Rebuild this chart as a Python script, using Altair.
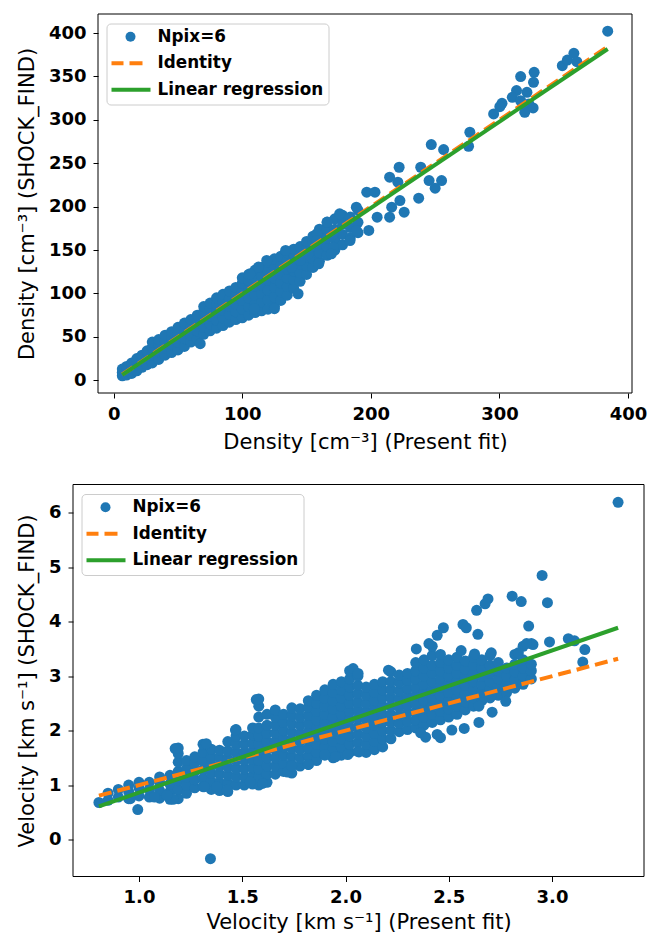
import altair as alt
import pandas as pd

BLUE, ORANGE, GREEN = "#1f77b4", "#ff7f0e", "#2ca02c"
SERIES = ["Npix=6", "Identity", "Linear regression"]
FONT = "DejaVu Sans"

# ---------------- Density panel ----------------
# dense band: present-fit density -> SHOCK_FIND densities in that column
density_columns = {
    6.7: [5.2, 9, 13], 10: [6, 11, 16], 14: [8, 14, 20], 18: [11, 18, 25],
    22: [15, 22, 29], 26: [18, 26, 34], 30: [20, 29, 38, 44], 35: [24, 33, 41, 47],
    40: [29, 37, 45, 52], 45: [32, 41, 49, 56], 50: [35, 44, 53, 61],
    55: [39, 48, 57, 66], 60: [44, 52, 61, 70], 65: [48, 57, 66, 75],
    70: [53, 61, 70, 79, 85], 75: [57, 65, 74, 83, 89], 80: [60, 69, 78, 87, 95],
    85: [63, 72, 81, 90, 99], 90: [67, 76, 85, 94, 103], 95: [70, 79, 88, 97, 107],
    100: [72, 82, 92, 102, 112, 118], 105: [75, 85, 95, 105, 115, 122],
    110: [78, 88, 98, 108, 118, 127], 115: [80, 90, 100, 110, 120, 130],
    120: [82, 93, 104, 115, 126, 136], 125: [85, 96, 107, 118, 129, 140],
    130: [92, 102, 112, 122, 132, 143], 135: [98, 108, 118, 128, 138, 147],
    140: [106, 116, 126, 136, 146, 151], 145: [114, 124, 134, 144, 154],
    150: [122, 132, 142, 152, 160], 155: [130, 140, 150, 160, 166],
    160: [137, 147, 157, 167, 174], 166: [144, 154, 164, 174, 182],
    172: [150, 162, 174, 186], 178: [156, 168, 180, 190],
    184: [164, 176, 188], 190: [170, 182, 196],
}
# scattered points away from the band
density_fit = [384.2, 348.9, 352.8, 357.9, 360.2, 316.5, 327, 326.5, 313.3, 321.4,
               310, 316.5, 322.9, 326.2, 302, 300.3, 295.5, 319.7, 277, 276,
               247, 256.6, 245.3, 255, 250, 238.8, 237.2, 222, 221, 214.6,
               222.6, 216.2, 214.6, 225.9, 204.9, 198.4, 196.8, 203.2, 188.7, 188.7,
               175.7, 166, 170.9, 183.8, 170.9, 157.9, 158, 169.3, 159.5, 151.5,
               143.4, 125, 109.4, 67.3, 138.5, 133.7, 145, 119, 106, 112.6]
density_shock = [402.1, 362.4, 368.9, 376.6, 367, 349.8, 354.7, 343.2, 333.7, 331.7,
                 326, 322, 318.3, 313.7, 319, 315.2, 306.8, 308.7, 285.7, 269.6,
                 271.5, 265.8, 230, 230, 221.3, 245.4, 209.8, 245.4, 228.2, 234,
                 207, 199.4, 187.9, 193.7, 187.9, 172.6, 216.7, 216.7, 199.4, 172.6,
                 191.8, 182.2, 168.7, 161, 153.4, 168.7, 161, 145.7, 134.2, 145.7,
                 99.7, 82.5, 82.5, 42.2, 130.4, 149.6, 138, 138, 122.7, 130.4]
density_line_x = [6.7, 384.2]
density_identity = [6.7, 384.2]
density_regression = [6.3, 381.6]
density_xlim = [-12.2, 403.1]
density_ylim = [-14.6, 421.9]

# ---------------- Velocity panel ----------------
velocity_columns = {
    0.85: [0.72, 0.85], 0.90: [0.78, 0.92], 0.95: [0.75, 0.88, 1.00],
    1.00: [0.80, 0.95, 1.05], 1.05: [0.78, 0.92, 1.05], 1.10: [0.76, 0.90, 1.05, 1.15],
    1.15: [0.74, 0.88, 1.02, 1.18], 1.19: [0.75, 0.92, 1.08, 1.25, 1.42, 1.58, 1.68],
    1.23: [0.85, 1.00, 1.15, 1.30, 1.45], 1.27: [0.95, 1.10, 1.25, 1.40, 1.52],
    1.31: [0.97, 1.12, 1.28, 1.44, 1.60, 1.75], 1.35: [0.92, 1.07, 1.22, 1.38, 1.52, 1.66],
    1.39: [0.90, 1.05, 1.20, 1.35, 1.50, 1.64], 1.43: [0.88, 1.03, 1.18, 1.33, 1.48, 1.63, 1.80],
    1.47: [1.00, 1.15, 1.30, 1.45, 1.60, 1.75, 1.90, 2.02],
    1.51: [1.00, 1.15, 1.30, 1.45, 1.60, 1.75, 1.90],
    1.55: [1.02, 1.17, 1.32, 1.47, 1.62, 1.77, 1.92, 2.05],
    1.58: [1.00, 1.15, 1.30, 1.45, 1.60, 1.75, 1.90, 2.05, 2.25, 2.45, 2.58],
    1.62: [1.05, 1.20, 1.35, 1.50, 1.65, 1.80, 1.95, 2.10, 2.30],
    1.66: [1.20, 1.35, 1.50, 1.65, 1.80, 1.95, 2.10, 2.25, 2.38],
    1.70: [1.25, 1.40, 1.55, 1.70, 1.85, 2.00, 2.15, 2.30],
    1.74: [1.22, 1.37, 1.52, 1.67, 1.82, 1.97, 2.12, 2.27, 2.42],
    1.78: [1.35, 1.50, 1.65, 1.80, 1.95, 2.10, 2.25, 2.40],
    1.82: [1.38, 1.53, 1.68, 1.83, 1.98, 2.13, 2.28, 2.43, 2.55],
    1.86: [1.45, 1.60, 1.75, 1.90, 2.05, 2.20, 2.35, 2.50, 2.65],
    1.90: [1.55, 1.70, 1.85, 2.00, 2.15, 2.30, 2.45, 2.60, 2.75],
    1.94: [1.50, 1.65, 1.80, 1.95, 2.10, 2.25, 2.40, 2.55, 2.70, 2.85],
    1.98: [1.55, 1.70, 1.85, 2.00, 2.15, 2.30, 2.45, 2.60, 2.75, 2.90],
    2.02: [1.60, 1.75, 1.90, 2.05, 2.20, 2.35, 2.50, 2.65, 2.80, 2.95, 3.10],
    2.06: [1.62, 1.78, 1.93, 2.08, 2.23, 2.38, 2.53, 2.68, 2.83, 3.00],
    2.10: [1.60, 1.75, 1.90, 2.05, 2.20, 2.35, 2.50, 2.65, 2.80],
    2.14: [1.65, 1.80, 1.95, 2.10, 2.25, 2.40, 2.55, 2.70, 2.85],
    2.18: [1.70, 1.85, 2.00, 2.15, 2.30, 2.45, 2.60, 2.75, 2.90],
    2.22: [1.85, 2.00, 2.15, 2.30, 2.45, 2.60, 2.75, 2.90, 3.08],
    2.26: [1.98, 2.13, 2.28, 2.43, 2.58, 2.73, 2.88, 3.02],
    2.30: [2.02, 2.17, 2.32, 2.47, 2.62, 2.77, 2.92, 3.05],
    2.34: [2.05, 2.20, 2.35, 2.50, 2.65, 2.80, 2.95, 3.10, 3.25],
    2.38: [2.10, 2.25, 2.40, 2.55, 2.70, 2.85, 3.00, 3.15, 3.30],
    2.42: [2.15, 2.30, 2.45, 2.60, 2.75, 2.90, 3.05, 3.20, 3.38, 3.55],
    2.46: [2.20, 2.35, 2.50, 2.65, 2.80, 2.95, 3.10, 3.25, 3.40],
    2.50: [2.25, 2.40, 2.55, 2.70, 2.85, 3.00, 3.15, 3.30],
    2.54: [2.30, 2.45, 2.60, 2.75, 2.90, 3.05, 3.20, 3.35],
    2.58: [2.38, 2.53, 2.68, 2.83, 2.98, 3.13, 3.28],
    2.62: [2.45, 2.60, 2.75, 2.90, 3.05, 3.20, 3.35],
    2.66: [2.55, 2.70, 2.85, 3.00, 3.15, 3.30],
    2.70: [2.60, 2.75, 2.90, 3.05, 3.20, 3.38],
    2.74: [2.65, 2.80, 2.95, 3.10, 3.25],
    2.78: [2.70, 2.85, 3.00, 3.15],
    2.82: [2.78, 2.93, 3.08, 3.22, 3.40],
    2.86: [2.85, 3.00, 3.15, 3.30, 3.55],
    2.90: [2.95, 3.10, 3.22, 3.60],
}
velocity_fit = [3.32, 2.952, 2.978, 2.807, 2.851, 2.690, 2.676, 2.635, 2.887, 2.641,
                2.569, 2.585, 2.474, 2.444, 3.079, 3.109, 2.988, 3.159, 3.149, 2.56,
                2.706, 2.837, 2.908, 2.776, 2.710, 2.646, 2.646, 2.575, 2.515, 2.460,
                2.444, 2.364, 2.388, 2.208, 2.037, 2.061, 1.568, 1.326, 1.175, 1.467,
                1.346, 0.994, 0.958, 0.806, 1.951, 2.011, 2.065, 1.900, 1.820, 1.719,
                1.739, 1.598, 1.538, 1.427, 1.377, 1.316, 1.165, 1.135, 1.075,
                2.343, 2.404, 2.625, 2.877, 2.706]
velocity_shock = [6.194, 4.85, 4.35, 4.47, 4.37, 4.42, 4.33, 4.21, 3.92, 3.77,
                  3.95, 3.89, 3.89, 3.75, 3.69, 3.65, 3.63, 3.49, 3.26, 3.47,
                  3.43, 3.43, 3.58, 2.54, 2.34, 2.45, 2.15, 2.04, 2.01, 1.87,
                  1.93, 1.96, 1.88, 3.11, 3.14, 3.05, 2.57, 1.76, 1.67, 2.01,
                  -0.352, 0.55, 0.75, 0.68, 1.52, 1.56, 1.61, 1.56, 1.38, 1.24,
                  1.35, 1.03, 1.06, 0.91, 0.97, 0.97, 0.74, 0.81, 0.78,
                  3.50, 3.60, 3.41, 3.60, 2.65]
velocity_line_x = [0.806, 3.32]
velocity_identity = [0.806, 3.32]
velocity_regression = [0.61, 3.89]
velocity_xlim = [0.6804, 3.4455]
velocity_ylim = [-0.679, 6.521]


def scatter_frame(columns, fit, shock):
    xs, ys = [], []
    for x, col in columns.items():
        xs += [x] * len(col)
        ys += col
    xs += fit
    ys += shock
    return pd.DataFrame({"fit": xs, "shock": ys, "series": SERIES[0]})


def pick(a, b, c):
    # per-entry legend styling: scatter dot, dashed identity, solid regression
    return alt.ExprRef(expr=f"datum.value === '{SERIES[0]}' ? {a} : "
                            f"(datum.value === '{SERIES[1]}' ? {b} : {c})")


def legend(left):
    return alt.Legend(
        title=None, orient="none", legendX=left + 8.5, legendY=9.5, columns=1,
        padding=5, rowPadding=8.5, labelOffset=5, symbolOffset=-3, labelLimit=400,
        clipHeight=16.5, symbolSize=pick(100, 1600, 1600),
        symbolStrokeWidth=4, symbolOpacity=1,
        symbolType=pick("'circle'", "'stroke'", "'stroke'"),
        symbolStrokeColor=pick("'transparent'", f"'{ORANGE}'", f"'{GREEN}'"),
        symbolDash=pick("[1, 0]", "[13, 6, 13, 8]", "[1, 0]"),
        labelFont=FONT, labelFontWeight="bold", labelFontSize=16.8, labelColor="black",
        strokeColor="#cccccc", cornerRadius=4, fillColor="white",
    )


def axis(title, values, fmt, title_pad, **extra):
    return alt.Axis(
        title=title, values=values, format=fmt, grid=False, domain=False,
        ticks=True, tickSize=5, tickWidth=1, tickColor="black",
        labelFont=FONT, labelFontWeight="bold", labelFontSize=18, labelColor="black",
        labelPadding=7, labelFlush=False, labelOverlap=False,
        titleFont=FONT, titleFontWeight="normal", titleFontSize=21, titleColor="black",
        titlePadding=title_pad, **extra,
    )


def panel(points, line_x, identity, regression, xlim, ylim, xvals, yvals, fmt,
          xtitle, ytitle, w, h, inset=0, xtitle_pad=8):
    """One scatter panel. `inset` leaves a blank strip (in px) left of the axes box,
    so that panels with narrower tick labels can sit further left in the column."""
    x_lo = xlim[0] - inset * (xlim[1] - xlim[0]) / w
    xs = alt.Scale(domain=[x_lo, xlim[1]], nice=False, zero=False)
    ys = alt.Scale(domain=ylim, nice=False, zero=False)
    xextra = {"titleX": inset + w / 2} if inset else {}
    yextra = {"offset": -inset} if inset else {}
    pts = alt.Chart(points).mark_circle(size=121, opacity=1).encode(
        x=alt.X("fit:Q", scale=xs, axis=axis(xtitle, xvals, fmt, xtitle_pad, **xextra)),
        y=alt.Y("shock:Q", scale=ys, axis=axis(ytitle, yvals, "d", 11, **yextra)),
        color=alt.Color("series:N", legend=legend(inset),
                        scale=alt.Scale(domain=SERIES, range=[BLUE, ORANGE, GREEN])),
    )
    lines = pd.DataFrame({"fit": line_x, "identity": identity, "regression": regression})
    ident = alt.Chart(lines).mark_line(color=ORANGE, strokeWidth=4, strokeDash=[13, 6]).encode(
        x=alt.X("fit:Q", scale=xs), y=alt.Y("identity:Q", scale=ys))
    reg = alt.Chart(lines).mark_line(color=GREEN, strokeWidth=4).encode(
        x=alt.X("fit:Q", scale=xs), y=alt.Y("regression:Q", scale=ys))
    box = pd.DataFrame({"x0": [xlim[0]], "x1": [xlim[1]], "y0": [ylim[0]], "y1": [ylim[1]]})
    frame = alt.Chart(box).mark_rect(fillOpacity=0, stroke="black", strokeWidth=1).encode(
        x=alt.X("x0:Q", scale=xs), x2="x1", y=alt.Y("y0:Q", scale=ys), y2="y1")
    return alt.layer(pts, ident, reg, frame).properties(
        width=w + inset, height=h, view=alt.ViewBackground(stroke="transparent"))


top = panel(scatter_frame(density_columns, density_fit, density_shock),
            density_line_x, density_identity, density_regression,
            density_xlim, density_ylim, [0, 100, 200, 300, 400],
            [0, 50, 100, 150, 200, 250, 300, 350, 400], "d",
            "Density [cm⁻³] (Present fit)", "Density [cm⁻³] (SHOCK_FIND)", 534, 379,
            inset=25)

bottom = panel(scatter_frame(velocity_columns, velocity_fit, velocity_shock),
               velocity_line_x, velocity_identity, velocity_regression,
               velocity_xlim, velocity_ylim, [1.0, 1.5, 2.0, 2.5, 3.0],
               [0, 1, 2, 3, 4, 5, 6], ".1f",
               "Velocity [km s⁻¹] (Present fit)", "Velocity [km s⁻¹] (SHOCK_FIND)", 571, 392,
               xtitle_pad=5)

chart = alt.vconcat(top, bottom, spacing=30.5).resolve_scale(
    color="independent", x="independent", y="independent"
).resolve_legend(color="independent").properties(
    padding={"left": 15, "top": 13, "right": 0, "bottom": 0},
    background="white",
)

chart.save("out.html", embed_options={"renderer": "svg", "actions": False})
